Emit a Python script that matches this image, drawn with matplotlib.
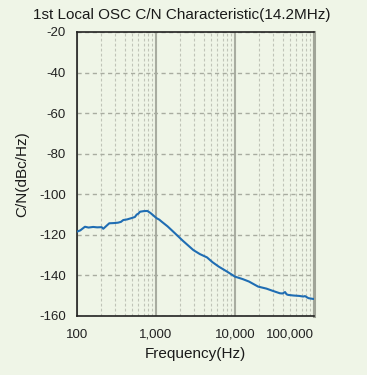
import matplotlib
matplotlib.use("Agg")
import matplotlib.pyplot as plt
from matplotlib.ticker import FixedLocator, NullFormatter

freq = [100, 110, 126, 140, 160, 180, 205, 215, 256, 290, 330, 360, 385, 430, 493, 540, 570, 600, 627, 700, 777, 850, 1019, 1100, 1180, 1400, 1650, 2200, 2970, 3600, 4420, 5200, 6250, 8000, 10000, 12500, 15000, 19600, 25000, 30000, 37000, 40000, 43000, 45000, 47000, 55000, 65000, 73000, 77000, 85000, 98000, 100000]
cn = [-118.4, -117.8, -116.0, -116.4, -116.1, -116.3, -116.2, -117.0, -114.3, -114.2, -114.0, -113.6, -112.7, -112.4, -111.7, -111.2, -110.0, -109.5, -108.6, -108.3, -108.2, -109.2, -111.8, -112.5, -113.5, -115.8, -118.4, -123.0, -127.5, -129.5, -131.1, -133.5, -135.7, -138.2, -140.6, -141.8, -143.0, -145.5, -146.5, -147.6, -148.8, -148.9, -148.2, -149.3, -149.6, -149.9, -150.1, -150.4, -150.2, -151.2, -151.6, -151.6]

yticks = [-20, -40, -60, -80, -100, -120, -140, -160]
xticks = [100, 1000, 10000, 100000]
xticklabels = ["100", "1,000", "10,000", "100,000"]

bg = "#eff5e7"
plt.rcParams['font.family'] = ['Liberation Sans', 'DejaVu Sans']
plt.rcParams['axes.unicode_minus'] = False
fig = plt.figure(figsize=(3.67, 3.75), dpi=100, facecolor=bg)
ax = fig.add_axes([77/367, 1-316/375, (314-77)/367, (316-32)/375])
ax.set_facecolor(bg)

ax.plot(freq, cn, color="#1f6db3", lw=1.5, zorder=3)
ax.set_xscale('log')
ax.set_xlim(100, 100000)
ax.set_ylim(-160, -20)

ax.set_yticks(yticks)
ax.set_xticks(xticks)
ax.set_xticklabels(xticklabels)
minors = [m * 10**e for e in range(2, 5) for m in range(2, 10)]
ax.xaxis.set_minor_locator(FixedLocator(minors))
ax.xaxis.set_minor_formatter(NullFormatter())
ax.tick_params(axis='both', which='both', length=0, labelsize=9.5, colors='#222222', pad=8)
ax.tick_params(axis='x', pad=9)
labs = ax.get_xticklabels()
labs[-1].set_horizontalalignment('right')

ax.grid(True, which='major', axis='y', color='#a8aca0', ls=(0, (3, 2.5)), lw=1.0)
ax.grid(True, which='major', axis='x', color='#a8aca0', ls='-', lw=1.5)
ax.grid(True, which='minor', axis='x', color='#c0c4b8', ls=(0, (2.5, 2)), lw=0.8)

for s in ['left', 'bottom', 'top']:
    ax.spines[s].set_color('#222222')
    ax.spines[s].set_linewidth(1.2)
ax.spines['right'].set_color('#a0a498')
ax.spines['right'].set_linewidth(2.2)

fig.text(0.494, 1-15/375, "1st Local OSC C/N Characteristic(14.2MHz)", fontsize=11,
         color='#1a1a1a', ha='center', va='center')
ax.set_xlabel("Frequency(Hz)", fontsize=11, color='#1a1a1a', labelpad=5)
ax.set_ylabel("C/N(dBc/Hz)", fontsize=11, color='#1a1a1a', labelpad=7)

fig.savefig("out.png", dpi=100, facecolor=bg)
